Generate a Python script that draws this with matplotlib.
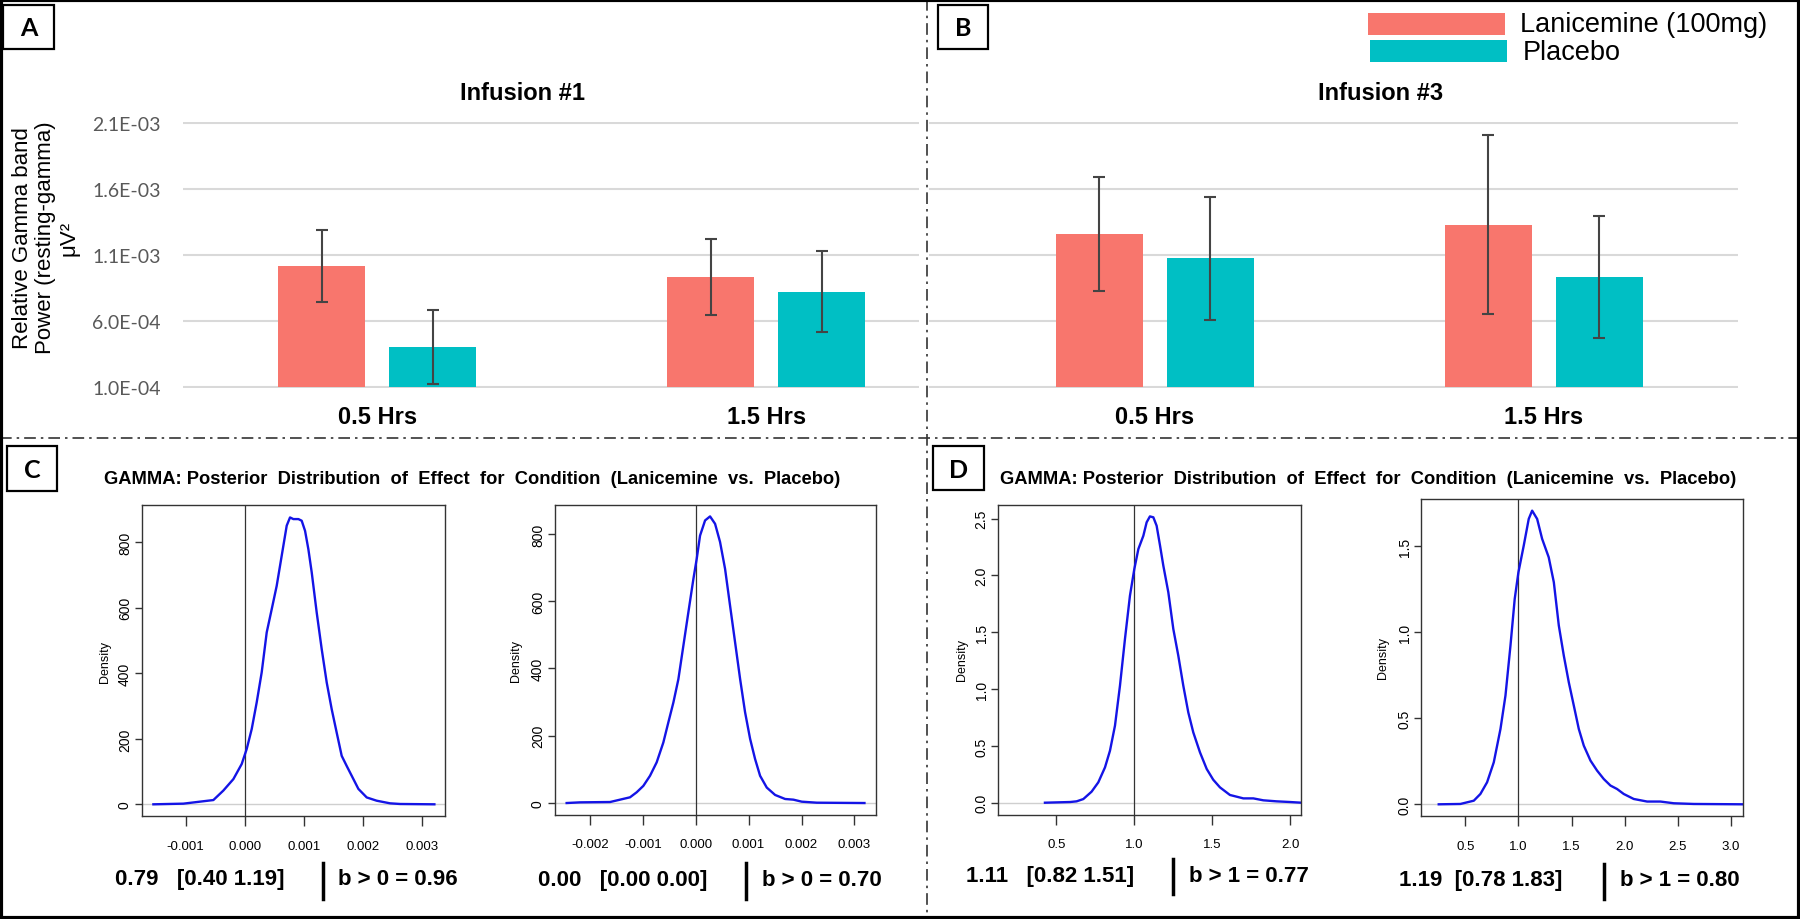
import matplotlib
matplotlib.use("Agg")
import matplotlib.pyplot as plt
from matplotlib.patches import Rectangle
from matplotlib.lines import Line2D
import numpy as np

W, H = 1800, 920

# ---------------- data: bar chart (panels A/B) ----------------
infusions = ["Infusion #1", "Infusion #3"]
timepoints = ["0.5 Hrs", "1.5 Hrs"]
series_names = ["Lanicemine (100mg)", "Placebo"]
lanicemine_mean = [1.017e-3, 0.932e-3, 1.256e-3, 1.328e-3]
lanicemine_err = [0.275e-3, 0.287e-3, 0.430e-3, 0.675e-3]
placebo_mean = [0.406e-3, 0.824e-3, 1.077e-3, 0.932e-3]
placebo_err = [0.280e-3, 0.308e-3, 0.465e-3, 0.460e-3]
ytick_vals = [1.0e-4, 6.0e-4, 1.1e-3, 1.6e-3, 2.1e-3]
ytick_labels = ["1.0E-04", "6.0E-04", "1.1E-03", "1.6E-03", "2.1E-03"]

# ---------------- data: posterior densities (panels C/D) ----------------
c1_x = [-0.001548, -0.001040, -0.000531, -0.000362, -0.000192, -0.000051, 0.000034,
        0.000119, 0.000203, 0.000288, 0.000373, 0.000458, 0.000542, 0.000627,
        0.000712, 0.000768, 0.000825, 0.000910, 0.000966, 0.001023, 0.001079,
        0.001136, 0.001220, 0.001305, 0.001390, 0.001475, 0.001559, 0.001644,
        0.001729, 0.001814, 0.001927, 0.002068, 0.002237, 0.002463, 0.002633, 0.003215]
c1_y = [0, 2, 13, 42, 77, 123, 169, 230, 311, 403, 525, 596, 667, 759, 851, 876,
        871, 871, 866, 835, 779, 708, 586, 474, 372, 290, 219, 148, 117, 87, 47,
        21, 11, 3, 1, 0]

c2_x = [-0.002440, -0.002188, -0.001620, -0.001431, -0.001242, -0.001116, -0.000990,
        -0.000864, -0.000738, -0.000612, -0.000517, -0.000422, -0.000328, -0.000233,
        -0.000139, -0.000044, 0.000019, 0.000082, 0.000177, 0.000271, 0.000366,
        0.000460, 0.000555, 0.000649, 0.000744, 0.000839, 0.000933, 0.001028,
        0.001122, 0.001217, 0.001343, 0.001501, 0.001690, 0.001847, 0.002005,
        0.002289, 0.003190]
c2_y = [0, 2, 3, 10, 17, 32, 51, 81, 121, 180, 240, 299, 368, 468, 567, 666, 726,
        795, 840, 852, 830, 776, 696, 587, 478, 369, 270, 191, 131, 81, 46, 24,
        12, 10, 4, 1, 0]

d1_x = [0.427, 0.588, 0.630, 0.673, 0.726, 0.769, 0.812, 0.844, 0.876, 0.908, 0.940,
        0.972, 1.000, 1.026, 1.058, 1.079, 1.100, 1.122, 1.143, 1.165, 1.186, 1.218,
        1.250, 1.282, 1.314, 1.346, 1.378, 1.421, 1.464, 1.506, 1.549, 1.613, 1.699,
        1.763, 1.827, 1.912, 1.998, 2.071]
d1_y = [0.0, 0.006, 0.012, 0.032, 0.097, 0.179, 0.311, 0.458, 0.678, 1.030, 1.441,
        1.822, 2.057, 2.233, 2.350, 2.468, 2.520, 2.512, 2.438, 2.262, 2.086, 1.852,
        1.529, 1.294, 1.030, 0.795, 0.619, 0.443, 0.297, 0.202, 0.135, 0.068, 0.038,
        0.038, 0.021, 0.012, 0.006, 0.0]

d2_x = [0.250, 0.454, 0.580, 0.642, 0.705, 0.768, 0.831, 0.878, 0.925, 0.965, 1.000,
        1.050, 1.097, 1.129, 1.176, 1.223, 1.285, 1.333, 1.380, 1.427, 1.474, 1.521,
        1.568, 1.615, 1.678, 1.740, 1.803, 1.866, 1.928, 1.991, 2.085, 2.211, 2.336,
        2.462, 2.650, 3.120]
d2_y = [0.0, 0.002, 0.021, 0.060, 0.128, 0.244, 0.438, 0.632, 0.922, 1.194, 1.349,
        1.504, 1.659, 1.707, 1.659, 1.543, 1.436, 1.291, 1.039, 0.864, 0.709, 0.574,
        0.438, 0.341, 0.254, 0.196, 0.147, 0.109, 0.089, 0.060, 0.031, 0.016, 0.016,
        0.006, 0.002, 0.0]

post_title = "GAMMA: Posterior  Distribution  of  Effect  for  Condition  (Lanicemine  vs.  Placebo)"
stats_left = ["0.79   [0.40 1.19]", "0.00   [0.00 0.00]", "1.11   [0.82 1.51]", "1.19  [0.78 1.83]"]
stats_right = ["b > 0 = 0.96", "b > 0 = 0.70", "b > 1 = 0.77", "b > 1 = 0.80"]

# ---------------- styling ----------------
RED = "#F8766D"
TEAL = "#00BFC4"
SANS = ["Liberation Sans", "DejaVu Sans"]
NARROW = ["Liberation Sans Narrow", "Liberation Sans", "DejaVu Sans"]
CALI = ["Lato", "Liberation Sans", "DejaVu Sans"]

fig = plt.figure(figsize=(W / 100, H / 100), dpi=100)
fig.patch.set_facecolor("white")


def ax_at(x0, y0, x1, y1):
    return fig.add_axes([x0 / W, 1 - y1 / H, (x1 - x0) / W, (y1 - y0) / H])


def ftext(x, y, s, **kw):
    return fig.text(x / W, 1 - y / H, s, **kw)


def fline(x0, y0, x1, y1, **kw):
    fig.add_artist(Line2D([x0 / W, x1 / W], [1 - y0 / H, 1 - y1 / H],
                          transform=fig.transFigure, **kw))


def frect(x0, y0, x1, y1, **kw):
    fig.add_artist(Rectangle((x0 / W, 1 - y1 / H), (x1 - x0) / W, (y1 - y0) / H,
                             transform=fig.transFigure, **kw))


# ---------------- bar chart ----------------
ax = ax_at(183, 123, 1738, 389)
pos = np.arange(len(lanicemine_mean))
off, bw = 0.1428, 0.224
base = ytick_vals[0]
ax.bar(pos - off, np.array(lanicemine_mean) - base, bottom=base, width=bw, color=RED, zorder=2)
ax.bar(pos + off, np.array(placebo_mean) - base, bottom=base, width=bw, color=TEAL, zorder=2)
ax.errorbar(pos - off, lanicemine_mean, yerr=lanicemine_err, fmt="none", ecolor="#444444",
            elinewidth=1.5, capsize=4, capthick=1.5, zorder=3)
ax.errorbar(pos + off, placebo_mean, yerr=placebo_err, fmt="none", ecolor="#444444",
            elinewidth=1.5, capsize=4, capthick=1.5, zorder=3)
ax.set_xlim(-0.5, 3.5)
ax.set_ylim(ytick_vals[0] - 0.005e-3, ytick_vals[-1] + 0.005e-3)
ax.set_yticks(ytick_vals)
ax.set_yticklabels(ytick_labels, fontsize=14, color="#595959", family=CALI)
ax.set_xticks(pos)
ax.set_xticklabels(timepoints * len(infusions), fontsize=17, fontweight="bold", family=SANS)
ax.tick_params(axis="both", length=0)
ax.tick_params(axis="y", pad=16)
ax.tick_params(axis="x", pad=12)
ax.yaxis.grid(True, color="#d9d9d9", lw=1.5, zorder=0)
ax.set_axisbelow(True)
for s in ax.spines.values():
    s.set_visible(False)

ftext(522, 94, infusions[0], ha="center", va="center", fontsize=17, fontweight="bold", family=SANS)
ftext(1381, 94, infusions[1], ha="center", va="center", fontsize=17, fontweight="bold", family=SANS)
ftext(46, 238, "Relative Gamma band\nPower (resting-gamma)\nμV²", rotation=90,
      ha="center", va="center", fontsize=16, family=SANS, linespacing=1.15,
      multialignment="center")

# legend
frect(1368, 14, 1505, 36, facecolor=RED, edgecolor="none", zorder=5)
frect(1370, 41, 1507, 63, facecolor=TEAL, edgecolor="none", zorder=5)
ftext(1520, 25, series_names[0], ha="left", va="center", fontsize=19.5, family=SANS)
ftext(1523, 53, series_names[1], ha="left", va="center", fontsize=19.5, family=SANS)


# ---------------- density panels ----------------
def density_panel(box, xs, ys, xlim, ylim, xt, xtl, yt, ytl, vline, dens_xy):
    a = ax_at(*box)
    a.axhline(0, color="#cfcfcf", lw=1, zorder=1)
    a.axvline(vline, color="#333333", lw=0.9, zorder=1)
    a.plot(xs, ys, color="#1414E6", lw=1.7, zorder=2, solid_joinstyle="round")
    a.set_xlim(*xlim)
    a.set_ylim(*ylim)
    a.set_xticks(xt)
    a.set_xticklabels(xtl, fontsize=9.5, family=NARROW)
    a.set_yticks(yt)
    a.set_yticklabels(ytl, fontsize=10, family=SANS, rotation=90, va="center")
    a.tick_params(axis="x", length=7, width=1, pad=10, color="#333333")
    a.tick_params(axis="y", length=5, width=1, pad=2, color="#333333")
    for s in a.spines.values():
        s.set_color("#333333")
        s.set_linewidth(1)
    ftext(dens_xy[0], dens_xy[1], "Density", rotation=90, ha="center", va="center",
          fontsize=9, family=SANS)
    return a


density_panel((141.7, 506, 445.3, 817), c1_x, c1_y, (-0.001746, 0.0034), (-35.7, 914),
              [-0.001, 0.0, 0.001, 0.002, 0.003], ["-0.001", "0.000", "0.001", "0.002", "0.003"],
              [0, 200, 400, 600, 800], ["0", "200", "400", "600", "800"], 0.0, (105, 662))
density_panel((554.7, 506.3, 876.3, 815.7), c2_x, c2_y, (-0.002666, 0.003414), (-34.7, 885),
              [-0.002, -0.001, 0.0, 0.001, 0.002, 0.003],
              ["-0.002", "-0.001", "0.000", "0.001", "0.002", "0.003"],
              [0, 200, 400, 600, 800], ["0", "200", "400", "600", "800"], 0.0, (516, 661))
density_panel((998.3, 505.7, 1301.3, 815.7), d1_x, d1_y, (0.128, 2.0705), (-0.1056, 2.623),
              [0.5, 1.0, 1.5, 2.0], ["0.5", "1.0", "1.5", "2.0"],
              [0.0, 0.5, 1.0, 1.5, 2.0, 2.5], ["0.0", "0.5", "1.0", "1.5", "2.0", "2.5"],
              1.0, (962, 660))
density_panel((1421.3, 500.3, 1743.3, 817), d2_x, d2_y, (0.086, 3.116), (-0.068, 1.773),
              [0.5, 1.0, 1.5, 2.0, 2.5, 3.0], ["0.5", "1.0", "1.5", "2.0", "2.5", "3.0"],
              [0.0, 0.5, 1.0, 1.5], ["0.0", "0.5", "1.0", "1.5"], 1.0, (1383, 658))

ftext(472.5, 479, post_title, ha="center", va="center", fontsize=13.2, fontweight="bold", family=SANS)
ftext(1368, 479, post_title, ha="center", va="center", fontsize=13.2, fontweight="bold", family=SANS)

# stats under each posterior
left_x = [115, 537.7, 965.7, 1399]
bar_x = [322.7, 745.7, 1173.3, 1604]
bar_y = [(864, 900), (864, 900), (860, 895), (865, 900)]
right_x = [338, 761.7, 1189, 1620]
base_y = [885, 886, 882, 886]
for i in range(4):
    ftext(left_x[i], base_y[i], stats_left[i], ha="left", va="baseline", fontsize=16,
          fontweight="bold", family=SANS)
    ftext(right_x[i], base_y[i], stats_right[i], ha="left", va="baseline", fontsize=16,
          fontweight="bold", family=SANS)
    fline(bar_x[i], bar_y[i][0], bar_x[i], bar_y[i][1], color="black", lw=2.5)

# ---------------- separators, panel labels, frame ----------------
frect(919, 100, 929, 400, facecolor="white", edgecolor="none", zorder=8)
fline(0, 439, W, 439, color="#333333", lw=1.2, linestyle=(0, (7, 3, 1.5, 3)), zorder=9)
fline(927, 0, 927, H, color="#333333", lw=1.2, linestyle=(0, (7, 3, 1.5, 3)), zorder=9)

labels = ["A", "B", "C", "D"]
boxes = [(3, 6, 54, 50), (938, 6, 988, 50), (7, 447, 57, 492), (933, 447, 984, 491)]
for lab, (x0, y0, x1, y1) in zip(labels, boxes):
    frect(x0, y0, x1, y1, facecolor="white", edgecolor="black", lw=1.6, zorder=10)
    ftext((x0 + x1) / 2, (y0 + y1) / 2 + 1, lab, ha="center", va="center", fontsize=18,
          fontweight="bold", family=CALI, zorder=11)

frect(0.5, 0.5, W - 1.5, H - 1.5, facecolor="none", edgecolor="black", lw=3, zorder=12)

fig.savefig("out.png", dpi=100, facecolor="white")
